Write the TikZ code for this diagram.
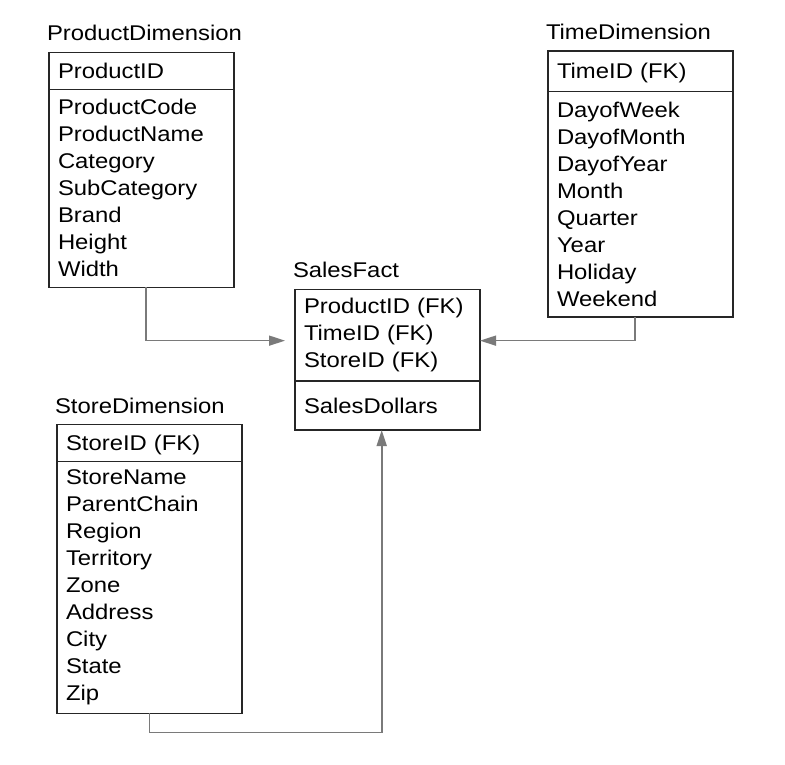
\documentclass[tikz,border=0pt]{standalone}
\usepackage{fontspec}
\setmainfont{Liberation Sans}[FakeStretch=1.12]
\usepackage{tikz}
\usetikzlibrary{positioning, arrows.meta}
\definecolor{linkgray}{HTML}{7A7A7A}
\definecolor{boxline}{HTML}{262626}
\tikzset{
	tabletitle/.style={
			inner sep=0pt,
			outer sep=0pt
		},
	tablebox/.style={
			draw=boxline,
			line width=1.3pt,
			minimum width=185pt,
			text width=167pt,
			inner xsep=9pt,
			inner ysep=0pt,
			outer sep=0pt,
			align=left,
			anchor=north west
		},
	keybox/.style={
			tablebox,
			text depth=0pt
		},
	attrbox/.style={
			tablebox,
			anchor=north
		},
	link/.style={
			draw=linkgray,
			line width=1.6pt,
			-{Triangle[length=16pt, width=10pt]}
		}
}

\begin{document}
\begin{tikzpicture}[x=1pt, y=1pt, font=\fontsize{21.3pt}{27pt}\selectfont]
				\useasboundingbox (0,0) rectangle (785,-764);

				\node[keybox, minimum height=37pt] at (49,-52.3) (prodkey) {ProductID};
				\node[attrbox, minimum height=198pt, below=0pt of prodkey] (prodattr)
					{ProductCode\\ProductName\\Category\\SubCategory\\Brand\\Height\\Width};
				\node[tabletitle, above=11.5pt of prodkey.north west, anchor=base west, xshift=-2pt] (prodtitle) {ProductDimension};

				\node[keybox, minimum height=40.5pt] at (548,-51) (timekey) {TimeID (FK)};
				\node[attrbox, minimum height=225.5pt, below=0pt of timekey] (timeattr)
					{DayofWeek\\DayofMonth\\DayofYear\\Month\\Quarter\\Year\\Holiday\\Weekend};
				\node[tabletitle, above=11.5pt of timekey.north west, anchor=base west, xshift=-2pt] (timetitle) {TimeDimension};

				\node[tablebox, minimum height=91.7pt] at (295,-289.3) (saleskey)
					{ProductID (FK)\\TimeID (FK)\\StoreID (FK)};
				\node[attrbox, minimum height=49pt, text depth=0pt, below=0pt of saleskey] (salesattr) {SalesDollars};
				\node[tabletitle, above=12pt of saleskey.north west, anchor=base west, xshift=-2pt] (salestitle) {SalesFact};

				\node[keybox, minimum height=37pt] at (57,-424.7) (storekey) {StoreID (FK)};
				\node[attrbox, minimum height=251.6pt, below=0pt of storekey] (storeattr)
					{StoreName\\ParentChain\\Region\\Territory\\Zone\\Address\\City\\State\\Zip};
				\node[tabletitle, above=11.5pt of storekey.north west, anchor=base west, xshift=-2pt] (storetitle) {StoreDimension};

				\draw[link] ([xshift=4.5pt]prodattr.south) |- ([xshift=-10pt, yshift=-5.5pt]saleskey.west);
				\draw[link] ([xshift=-5.5pt]timeattr.south) |- ([yshift=-5.5pt]saleskey.east);
				\draw[link] (storeattr.south) -- ++(0,-19) -| ([xshift=-5.8pt]salesattr.south);
			\end{tikzpicture}
\end{document}
